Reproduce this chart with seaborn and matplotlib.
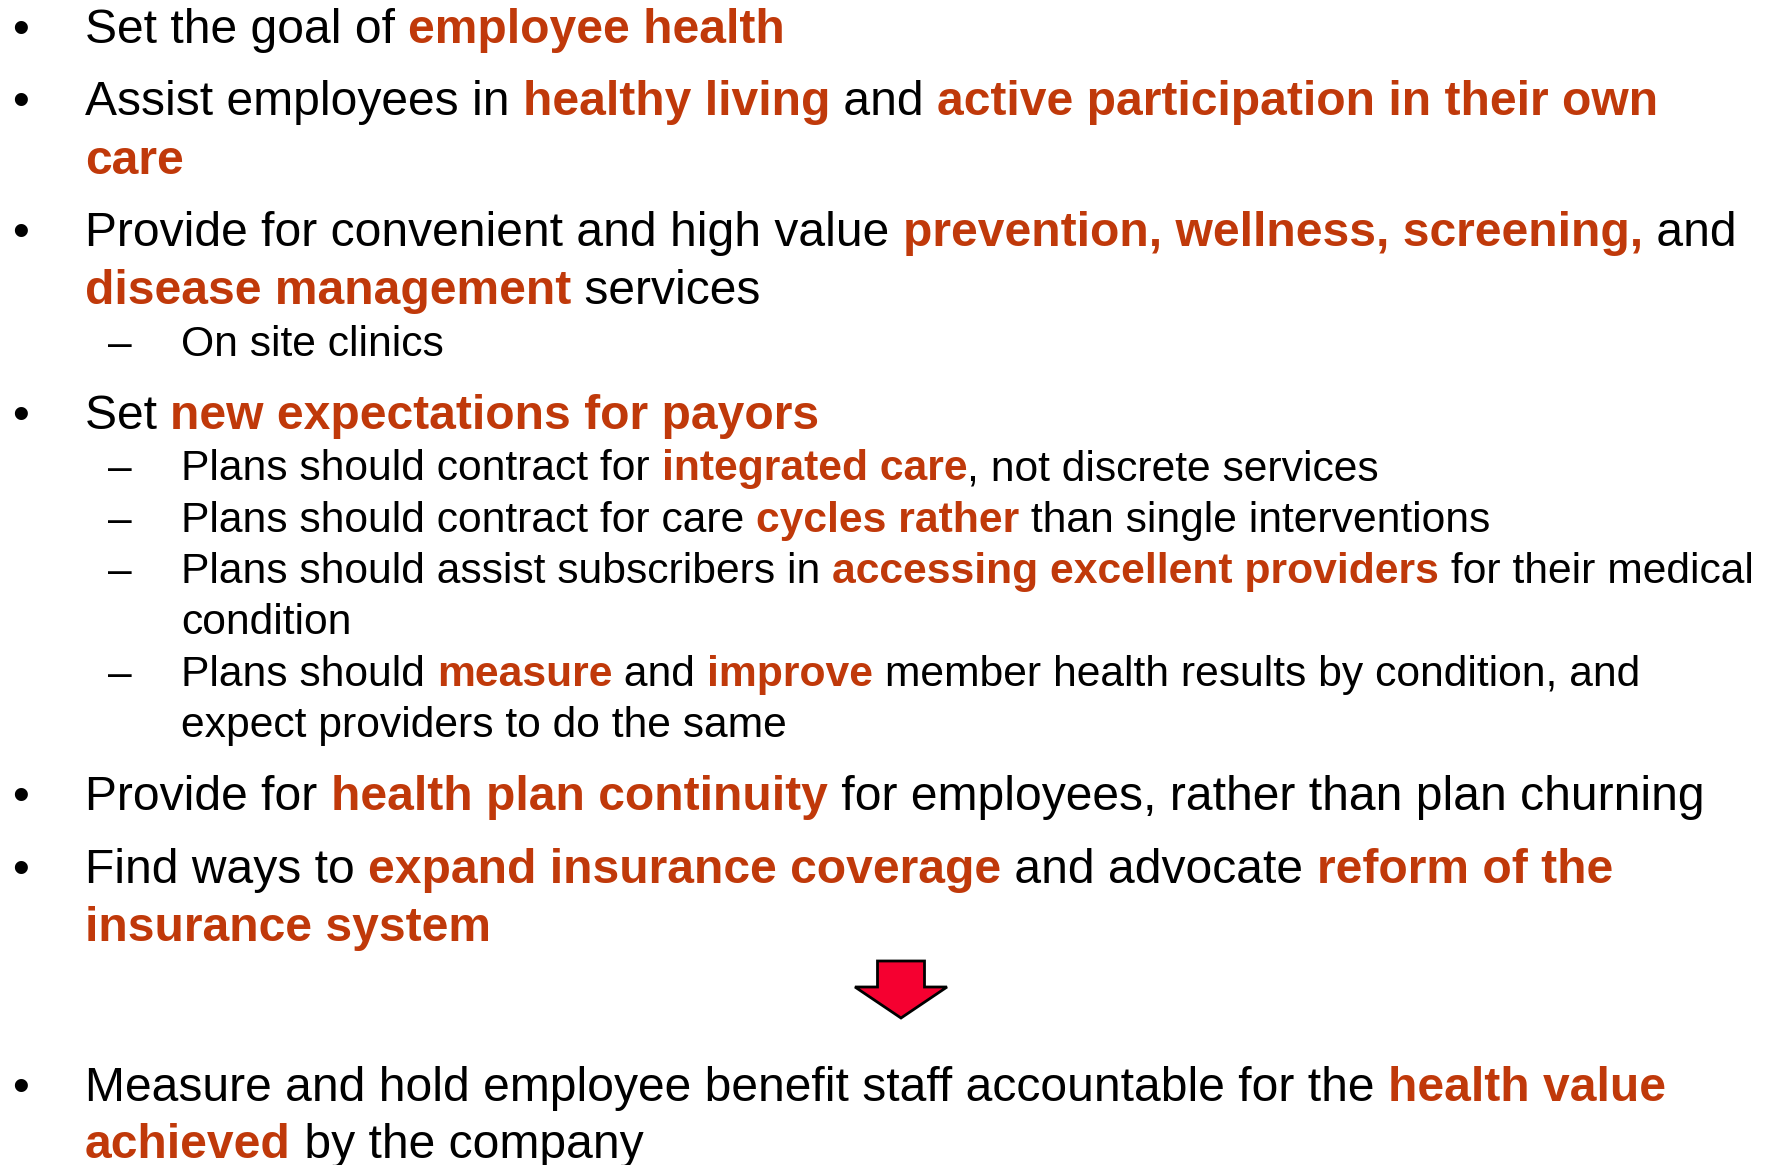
import matplotlib
matplotlib.use("Agg")
import matplotlib.pyplot as plt
import seaborn as sns
from matplotlib.patches import FancyArrow

sns.set_theme(style="white")
plt.rcParams['font.family'] = ['Liberation Sans', 'DejaVu Sans']

# slide text: (level, bullet?, baseline y, [(text, bold)])
ACCENT = '#C0390A'
lines = [
    (0, True, 43, [("Set the goal of ", False), ("employee health", True)]),
    (0, True, 115, [("Assist employees in ", False), ("healthy living", True), (" and ", False),
                    ("active participation in their own", True)]),
    (0, False, 174, [("care", True)]),
    (0, True, 246, [("Provide for convenient and high value ", False),
                    ("prevention, wellness, screening,", True), (" and", False)]),
    (0, False, 304, [("disease management", True), (" services", False)]),
    (1, True, 356, [("On site clinics", False)]),
    (0, True, 429, [("Set ", False), ("new expectations for payors", True)]),
    (1, True, 480, [("Plans should contract for ", False), ("integrated care", True),
                    (", not discrete services", False)]),
    (1, True, 532, [("Plans should contract for care ", False), ("cycles rather", True),
                    (" than single interventions", False)]),
    (1, True, 583, [("Plans should assist subscribers in ", False), ("accessing excellent providers", True),
                    (" for their medical", False)]),
    (1, False, 634, [("condition", False)]),
    (1, True, 686, [("Plans should ", False), ("measure", True), (" and ", False), ("improve", True),
                    (" member health results by condition, and", False)]),
    (1, False, 737, [("expect providers to do the same", False)]),
    (0, True, 810, [("Provide for ", False), ("health plan continuity", True),
                    (" for employees, rather than plan churning", False)]),
    (0, True, 883, [("Find ways to ", False), ("expand insurance coverage", True),
                    (" and advocate ", False), ("reform of the", True)]),
    (0, False, 941, [("insurance system", True)]),
    (0, True, 1101, [("Measure and hold employee benefit staff accountable for the ", False),
                     ("health value", True)]),
    (0, False, 1158, [("achieved", True), (" by the company", False)]),
]

font_size = {0: 34.55, 1: 30.7}
bullet_x = {0: 12, 1: 108}
text_x = {0: 85, 1: 181}

fig = plt.figure(figsize=(17.68, 11.65), dpi=100)
ax = fig.add_axes([0, 0, 1, 1])
ax.set_xlim(0, 1768)
ax.set_ylim(1165, 0)
ax.axis('off')

renderer = fig.canvas.get_renderer()
for level, has_bullet, y, parts in lines:
    fs = font_size[level]
    if has_bullet:
        ax.text(bullet_x[level], y, "\u2022" if level == 0 else "\u2013", fontsize=fs,
                color='black', va='baseline', ha='left')
    x = text_x[level]
    for txt, bold in parts:
        t = ax.text(x, y, txt, fontsize=fs, va='baseline', ha='left',
                    color=ACCENT if bold else 'black',
                    fontweight='bold' if bold else 'normal')
        bb = t.get_window_extent(renderer=renderer)
        x += bb.width  # axes units equal pixels here

# red down arrow between the lists
ax.add_patch(FancyArrow(901, 961, 0, 57, width=47, head_width=92, head_length=31,
                        length_includes_head=True, facecolor='#F50030',
                        edgecolor='black', linewidth=2))

fig.savefig("out.png", dpi=100)
